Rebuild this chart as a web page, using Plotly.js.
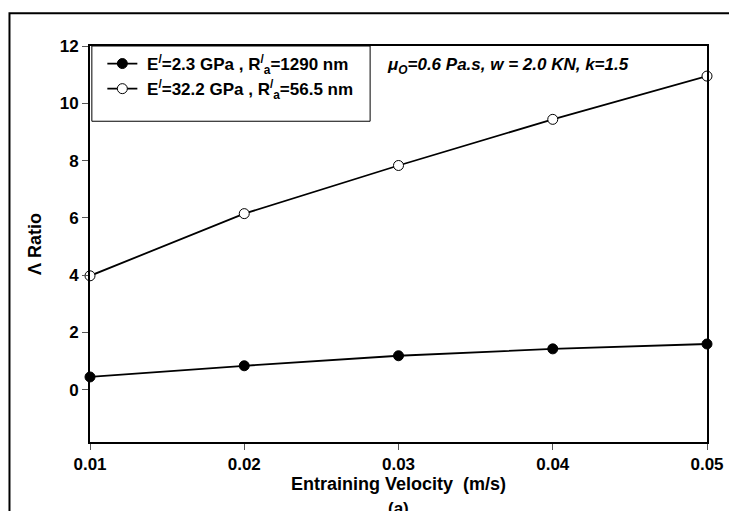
<!DOCTYPE html>
<html><head><meta charset="utf-8">
<script src="https://cdn.plot.ly/plotly-3.0.1.min.js"></script>
<style>html,body{margin:0;padding:0;background:#fff}#c{width:729px;height:511px}</style>
</head><body><div id="c"></div>
<script>
const velocity = [0.01, 0.02, 0.03, 0.04, 0.05];
const ratioSoft = [0.45, 0.84, 1.19, 1.43, 1.60];
const ratioHard = [3.98, 6.15, 7.83, 9.44, 10.95];
const nameSoft = "\u00a0E<sup>/</sup>=2.3 GPa , R<sup>/</sup><sub>a</sub>=1290 nm";
const nameHard = "\u00a0E<sup>/</sup>=32.2 GPa , R<sup>/</sup><sub>a</sub>=56.5 nm";
const xTicks = [0.01, 0.02, 0.03, 0.04, 0.05];
const yTicks = [0, 2, 4, 6, 8, 10, 12];

const F = "Liberation Sans, Arial, sans-serif";
const traces = [
  {x: velocity, y: ratioSoft, name: nameSoft, mode: "lines+markers", cliponaxis: false,
   line: {color: "#000", width: 1.8},
   marker: {symbol: "circle", size: 10, color: "#000", line: {color: "#000", width: 1}}},
  {x: velocity, y: ratioHard, name: nameHard, mode: "lines+markers", cliponaxis: false,
   line: {color: "#000", width: 1.8},
   marker: {symbol: "circle", size: 10, color: "#fff", line: {color: "#000", width: 1}}}
];
const layout = {
  width: 729, height: 511,
  margin: {l: 90, r: 22, t: 46, b: 69},
  paper_bgcolor: "#fff", plot_bgcolor: "#fff",
  font: {family: F, color: "#000", size: 17},
  showlegend: true,
  legend: {x: 0.02, y: 1.0, xanchor: "left", yanchor: "top", bgcolor: "rgba(0,0,0,0)",
    borderwidth: 0, font: {family: F, size: 17, color: "#000", weight: "bold"},
    tracegroupgap: 0, itemwidth: 30},
  xaxis: {range: [0.01, 0.05], tickvals: xTicks, ticktext: xTicks.map(v => v.toFixed(2)),
    showgrid: false, zeroline: false, showline: true, linecolor: "#000", linewidth: 2, mirror: true,
    ticks: "outside", ticklen: 6, tickcolor: "#555", tickwidth: 1,
    tickfont: {family: F, size: 17, weight: "bold"},
    title: {text: "Entraining Velocity  (m/s)", font: {family: F, size: 18, weight: "bold"}, standoff: 3}},
  yaxis: {range: [-1.82, 12], tickvals: yTicks, ticktext: yTicks.map(String),
    showgrid: false, zeroline: false, showline: true, linecolor: "#000", linewidth: 2, mirror: true,
    ticks: "outside", ticklen: 6, tickcolor: "#555", tickwidth: 1,
    tickfont: {family: F, size: 17, weight: "bold"},
    title: {text: "Λ Ratio", font: {family: F, size: 18, weight: "bold"}, standoff: 13}},
  shapes: [
    {type: "rect", xref: "paper", yref: "paper", x0: -0.1305, x1: 1.1, y0: -0.2, y1: 1.083,
     line: {color: "#000", width: 2}, fillcolor: "rgba(0,0,0,0)", layer: "below"},
    {type: "rect", xref: "paper", yref: "paper", x0: 0.003, x1: 0.454, y0: 0.81, y1: 1,
     line: {color: "#000", width: 1}, fillcolor: "rgba(0,0,0,0)"}
  ],
  annotations: [
    {xref: "paper", yref: "paper", x: 0.478, y: 0.95, xanchor: "left", yanchor: "middle", showarrow: false,
     text: "<i>μ<sub>O</sub>=0.6 Pa.s, w = 2.0 KN, k=1.5</i>",
     font: {family: F, size: 17, weight: "bold"}},
    {xref: "paper", yref: "paper", x: 0.5, y: -0.14, xanchor: "center", yanchor: "top", showarrow: false,
     text: "(a)", font: {family: F, size: 17, weight: "bold"}}
  ]
};
Plotly.newPlot("c", traces, layout, {displayModeBar: false, staticPlot: true});
</script></body></html>
